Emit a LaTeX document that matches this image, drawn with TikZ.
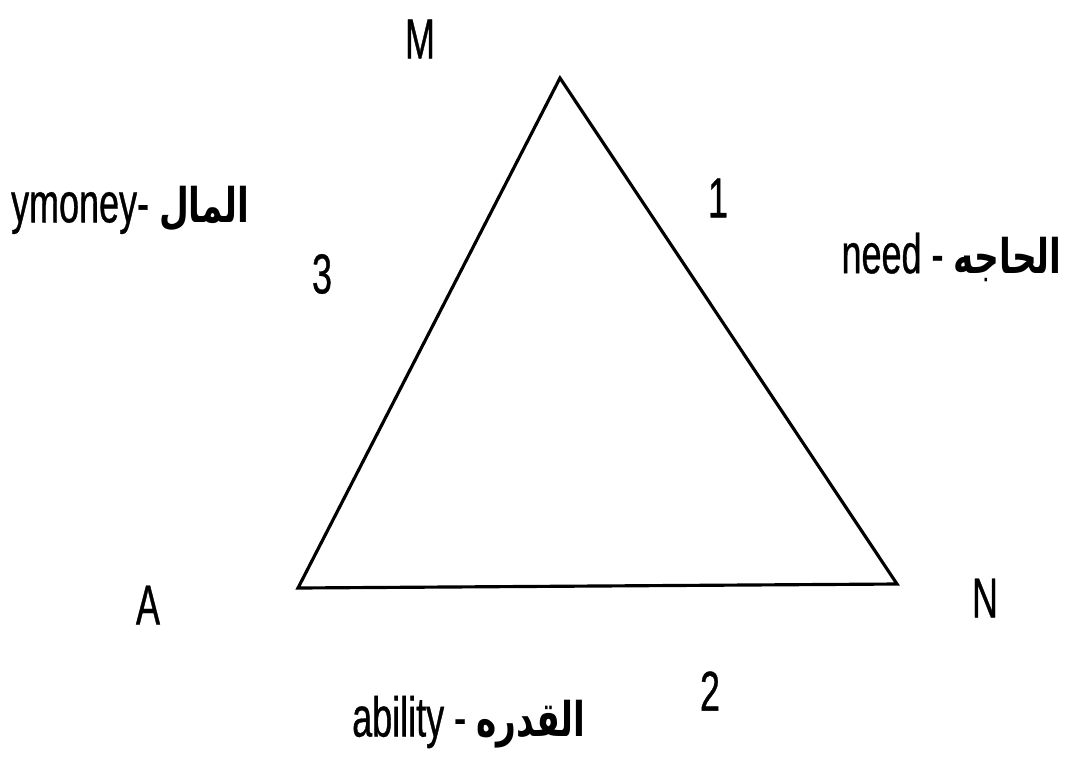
\documentclass[tikz,border=0pt]{standalone}
\usepackage{fontspec}
\setmainfont{Liberation Sans}[FakeStretch=0.64,FakeBold=0.6]
\newfontfamily\arabicfont[Script=Arabic,FakeStretch=0.72,Scale=0.85]{DejaVu Sans Bold}
\TeXXeTstate=1
\usetikzlibrary{positioning}

\begin{document}
\begin{tikzpicture}[
  x=0.02cm, y=-0.02cm,
  font=\fontsize{32}{36}\selectfont,
  side/.style={line width=1.8pt, line join=miter},
  tag/.style={inner sep=0pt, anchor=center},
  word/.style={inner sep=0pt, anchor=east},
]
\useasboundingbox (0,0) rectangle (1069,769);
% corners of the triangle
\coordinate (m) at (560, 78);
\coordinate (a) at (298, 588);
\coordinate (n) at (897, 584);
\draw[side] (m) -- (n) -- (a) -- cycle;
% corner letters
\node[tag] (lm) at (420, 39) {M};
\node[tag] (la) at (148, 605) {A};
\node[tag] (ln) at (985, 598) {N};
% side numbers
\node[tag] (one) at (718, 198) {1};
\node[tag] (two) at (710, 691) {2};
\node[tag] (three) at (322, 274) {3};
% side words
\node[word] (money) at (250, 210) {ymoney- {\arabicfont\beginR المال\endR}};
\node[word] (need) at (1062, 257) {need - {\arabicfont\beginR الحاجه\endR}};
\node[word] (ability) at (586, 722) {ability - {\arabicfont\beginR القدره\endR}};
\end{tikzpicture}
\end{document}
